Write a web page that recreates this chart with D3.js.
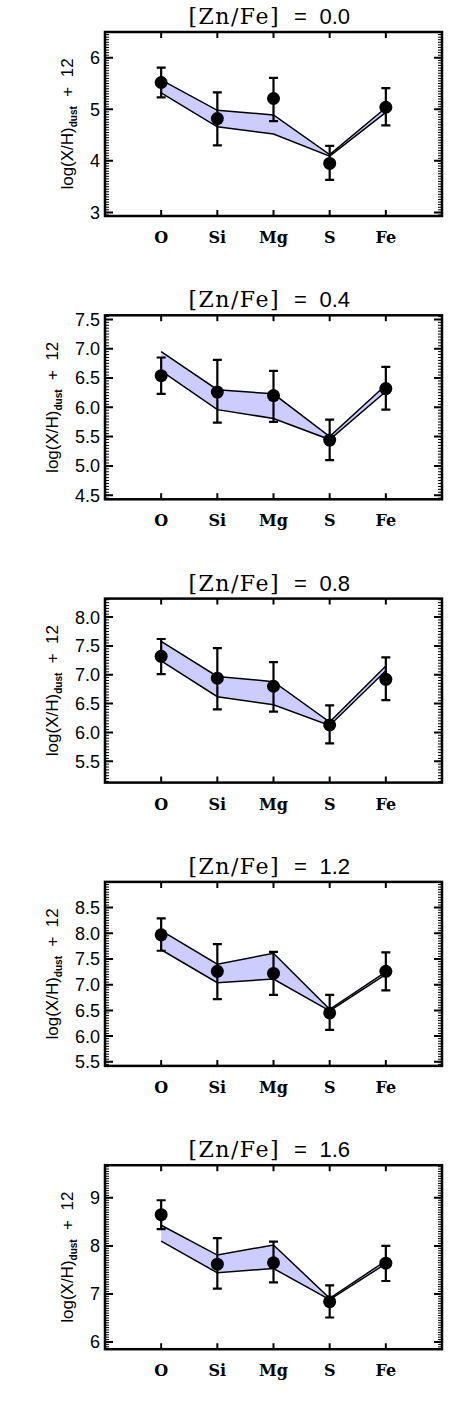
<!DOCTYPE html>
<html lang="en">
<head>
  <meta charset="UTF-8">
  <title>Dust depletion patterns</title>
  <script src="https://d3js.org/d3.v7.min.js"></script>
  <style>
    body { margin: 0; background: #fff; }
    svg { display: block; }
  </style>
</head>
<body>
  <div id="chart"></div>
  <script>
    // Data
    const elements = ["O", "Si", "Mg", "S", "Fe"];
    const znFe = ["0.0", "0.4", "0.8", "1.2", "1.6"];

    // observed dust abundances (one row per panel)
    const obsValue = [
      [5.52, 4.82, 5.21, 3.95, 5.04],
      [6.54, 6.26, 6.20, 5.44, 6.32],
      [7.32, 6.94, 6.80, 6.13, 6.92],
      [7.97, 7.26, 7.22, 6.45, 7.26],
      [8.65, 7.62, 7.65, 6.84, 7.64]
    ];
    const obsHigh = [
      [5.81, 5.33, 5.61, 4.29, 5.41],
      [6.85, 6.81, 6.62, 5.79, 6.69],
      [7.62, 7.46, 7.22, 6.47, 7.30],
      [8.29, 7.79, 7.64, 6.80, 7.63],
      [8.95, 8.16, 8.09, 7.18, 8.00]
    ];
    const obsLow = [
      [5.23, 4.30, 4.77, 3.63, 4.69],
      [6.23, 5.74, 5.75, 5.10, 5.96],
      [7.01, 6.40, 6.36, 5.81, 6.56],
      [7.66, 6.72, 6.80, 6.12, 6.89],
      [8.35, 7.11, 7.24, 6.51, 7.27]
    ];

    // model band edges
    const bandUpper = [
      [5.57, 4.98, 4.89, 4.12, 5.03],
      [6.95, 6.30, 6.23, 5.50, 6.38],
      [7.58, 6.97, 6.88, 6.18, 7.15],
      [8.05, 7.40, 7.61, 6.52, 7.25],
      [8.43, 7.81, 8.02, 6.91, 7.69]
    ];
    const bandLower = [
      [5.32, 4.66, 4.52, 4.09, 4.94],
      [6.62, 5.96, 5.81, 5.45, 6.27],
      [7.24, 6.62, 6.48, 6.12, 7.07],
      [7.68, 7.04, 7.11, 6.49, 7.20],
      [8.10, 7.44, 7.53, 6.88, 7.63]
    ];

    // y ranges and tick labels per panel
    const yRanges = [[2.93, 6.5], [4.43, 7.57], [5.13, 8.32], [5.42, 9.0], [5.85, 9.68]];
    const yTicks = [
      ["3", "4", "5", "6"],
      ["4.5", "5.0", "5.5", "6.0", "6.5", "7.0", "7.5"],
      ["5.5", "6.0", "6.5", "7.0", "7.5", "8.0"],
      ["5.5", "6.0", "6.5", "7.0", "7.5", "8.0", "8.5"],
      ["6", "7", "8", "9"]
    ];

    // Layout
    const width = 471, height = 1417;
    const boxLeft = 105, boxRight = 442;
    const boxTop0 = 32, boxH = 184, panelStep = 283.3;
    const sans = "'Liberation Sans', Arial, sans-serif";
    const serif = "'DejaVu Serif', serif";

    const svg = d3.select("#chart").append("svg")
      .attr("width", width)
      .attr("height", height);

    const x = d3.scaleLinear().domain([0, 6]).range([boxLeft, boxRight]);
    const cx0 = (boxLeft + boxRight) / 2;

    znFe.forEach((label, p) => {
      const top = boxTop0 + p * panelStep;
      const bottom = top + boxH;
      const y = d3.scaleLinear().domain(yRanges[p]).range([bottom, top]);
      const g = svg.append("g");

      // minor ticks on left/right edges
      const [y0, y1] = yRanges[p];
      const minor = d3.range(Math.ceil(y0 / 0.05) * 0.05, y1, 0.05);
      g.selectAll(".minor")
        .data(minor)
        .join("path")
        .attr("d", v => `M${boxLeft},${y(v)}h4M${boxRight},${y(v)}h-4`)
        .attr("stroke", "#000")
        .attr("stroke-width", 1);

      // major y ticks + labels
      g.selectAll(".ymaj")
        .data(yTicks[p])
        .join("path")
        .attr("d", t => `M${boxLeft},${y(+t)}h8M${boxRight},${y(+t)}h-8`)
        .attr("stroke", "#000")
        .attr("stroke-width", 2);

      const ylabs = g.selectAll(".ylab")
        .data(yTicks[p])
        .join("text")
        .attr("x", boxLeft - 5)
        .attr("y", t => y(+t))
        .attr("dy", "0.36em")
        .attr("text-anchor", "end")
        .style("font-family", sans)
        .style("font-size", "18px")
        .text(t => t);
      const maxW = d3.max(ylabs.nodes(), n => n.getComputedTextLength());

      // x ticks top and bottom
      g.selectAll(".xtick")
        .data(elements)
        .join("path")
        .attr("d", (d, i) => `M${x(i + 1)},${bottom}v-6M${x(i + 1)},${top}v6`)
        .attr("stroke", "#000")
        .attr("stroke-width", 2);

      g.selectAll(".xlab")
        .data(elements)
        .join("text")
        .attr("x", (d, i) => x(i + 1))
        .attr("y", bottom + 27)
        .attr("text-anchor", "middle")
        .style("font-family", serif)
        .style("font-weight", "bold")
        .style("font-size", "16px")
        .text(d => d);

      // model band
      const idx = d3.range(elements.length);
      const area = d3.area()
        .x(i => x(i + 1))
        .y0(i => y(bandLower[p][i]))
        .y1(i => y(bandUpper[p][i]));
      g.append("path")
        .attr("d", area(idx))
        .attr("fill", "#ccccff");

      const line = arr => d3.line().x(i => x(i + 1)).y(i => y(arr[i]))(idx);
      [bandUpper[p], bandLower[p]].forEach(arr => {
        g.append("path")
          .attr("d", line(arr))
          .attr("fill", "none")
          .attr("stroke", "#000")
          .attr("stroke-width", 1.5);
      });

      // error bars
      g.selectAll(".err")
        .data(idx)
        .join("path")
        .attr("d", i => {
          const cx = x(i + 1), hi = y(obsHigh[p][i]), lo = y(obsLow[p][i]);
          return `M${cx},${hi}V${lo}M${cx - 4.5},${hi}h9M${cx - 4.5},${lo}h9`;
        })
        .attr("fill", "none")
        .attr("stroke", "#000")
        .attr("stroke-width", 2.2);

      // observed points
      g.selectAll(".pt")
        .data(idx)
        .join("circle")
        .attr("cx", i => x(i + 1))
        .attr("cy", i => y(obsValue[p][i]))
        .attr("r", 6.5)
        .attr("fill", "#000");

      // frame
      g.append("rect")
        .attr("x", boxLeft)
        .attr("y", top)
        .attr("width", boxRight - boxLeft)
        .attr("height", boxH)
        .attr("fill", "none")
        .attr("stroke", "#000")
        .attr("stroke-width", 2.5);

      // title: [Zn/Fe] = value
      g.append("text")
        .attr("x", cx0 + 6.5)
        .attr("y", top - 8)
        .attr("text-anchor", "end")
        .style("font-family", serif)
        .style("font-size", "22px")
        .style("letter-spacing", "1.5px")
        .text("[Zn/Fe]");
      g.append("text")
        .attr("x", cx0 + 27)
        .attr("y", top - 8)
        .attr("text-anchor", "middle")
        .style("font-family", sans)
        .style("font-size", "22px")
        .text("=");
      g.append("text")
        .attr("x", cx0 + 46)
        .attr("y", top - 8)
        .style("font-family", sans)
        .style("font-size", "22px")
        .text(label);

      // y axis title, placed left of the tick labels
      const yt = g.append("text")
        .attr("transform", `translate(${boxLeft - 5 - maxW - 17},${(top + bottom) / 2}) rotate(-90)`)
        .attr("text-anchor", "middle")
        .style("font-family", sans)
        .style("font-size", "17px");
      yt.append("tspan").text("log(X/H)");
      yt.append("tspan")
        .attr("dy", 4)
        .style("font-size", "10px")
        .style("font-weight", "bold")
        .text("dust");
      yt.append("tspan")
        .attr("dy", -4)
        .attr("xml:space", "preserve")
        .style("white-space", "pre")
        .text("  +  12");
    });
  </script>
</body>
</html>
